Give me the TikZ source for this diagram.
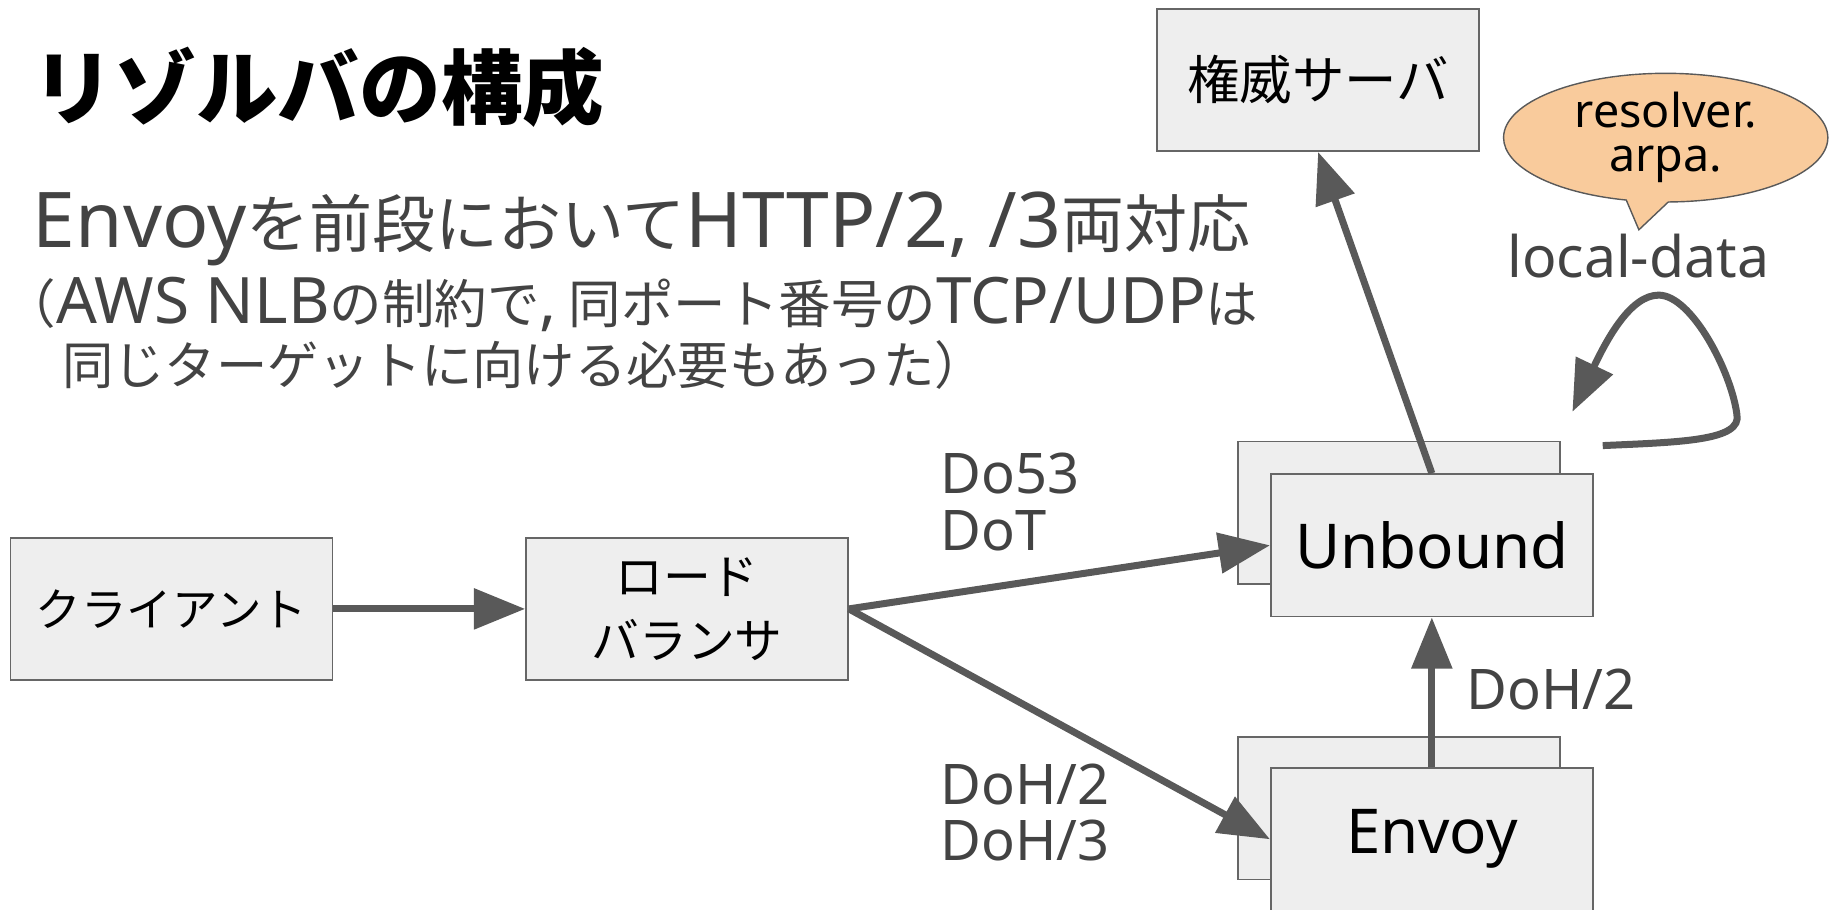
\documentclass[tikz,border=0pt]{standalone}
\usepackage{fontspec}
\setmainfont{Noto Sans CJK JP}
\newfontfamily\lat[Scale=1.22]{Noto Sans}
\newfontfamily\latn{Noto Sans}
\usetikzlibrary{arrows.meta,shapes.callouts,shapes.geometric}
\definecolor{boxfill}{HTML}{EEEEEE}
\definecolor{boxline}{HTML}{666666}
\definecolor{arrowc}{HTML}{595959}
\definecolor{textgray}{HTML}{434343}
\definecolor{callfill}{HTML}{F9CB9C}
\begin{document}
\begin{tikzpicture}[x=1pt,y=-1pt,
  box/.style={draw=boxline, fill=boxfill, line width=1.5pt, minimum width=276pt, minimum height=122pt, inner sep=0pt, align=center, font=\fontsize{40}{55}\selectfont},
  latbox/.style={box, font=\latn\fontsize{53}{60}\selectfont},
  arr/.style={draw=arrowc, line width=6pt, -{Triangle[length=44pt,width=34pt]}},
  lbl/.style={text=textgray, anchor=base west, inner sep=0pt, font=\latn\fontsize{48}{50}\selectfont, align=left}
]
\useasboundingbox (0,0) rectangle (1568,780);
% title
\node[anchor=base west, inner sep=0pt, font=\fontsize{70}{80}\selectfont\bfseries] (title) at (28,102) {リゾルバの構成};
\node[lbl, font=\fontsize{54}{60}\selectfont] (sub1) at (28,212) {{\lat Envoy}を前段において{\lat HTTP/2, /3}両対応};
\node[lbl, font=\fontsize{45}{50}\selectfont] (sub2) at (3,277) {（{\lat AWS NLB}の制約で{\lat ,} 同ポート番号の{\lat TCP/UDP}は};
\node[lbl, font=\fontsize{44}{50}\selectfont] (sub3) at (53,330) {同じターゲットに向ける必要もあった）};
% boxes
\node[box, font=\fontsize{39}{55}\selectfont] (client) at (147,522) {クライアント};
\node[box, font=\fontsize{41}{55}\selectfont] (lb) at (589,522) {ロード\\バランサ};
\node[box, font=\fontsize{45}{55}\selectfont] (auth) at (1130,68.5) {権威サーバ};
\node[box] (ubback) at (1199.5,439.5) {};
\node[latbox] (ub) at (1227.5,467.5) {Unbound};
\node[box] (envback) at (1199.5,693) {};
\node[latbox] (env) at (1227.5,719.5) {Envoy};
% callout
\node[ellipse callout, draw=arrowc, fill=callfill, line width=1.2pt, minimum width=278pt, minimum height=96pt, inner sep=0pt,
  callout absolute pointer={(1405,197)}, align=center, font=\latn\fontsize{40}{38}\selectfont] (rr) at (1428,118) {resolver.\\arpa.};
\node[lbl, font=\latn\fontsize{49}{50}\selectfont] (ld) at (1292,238) {local-data};
% arrows
\draw[arr] (client) -- (lb);
\draw[arr] (lb.east) -- (ub.west);
\draw[arr] (lb.east) -- (env.west);
\draw[arr] (env) -- (ub);
\draw[arr] (ub.north) -- (auth.south);
\coordinate (l0) at (1374,382);
\coordinate (l1) at (1489,355);
\coordinate (l2) at (1422,253);
\coordinate (l3) at (1348,353);
\draw[arr] (l0) .. controls (1440,379) and (1494,378) .. (l1) .. controls (1484,318) and (1450,253) .. (l2) .. controls (1398,253) and (1378,290) .. (l3);
% labels
\node[lbl] (do53) at (806,423) {Do53};
\node[lbl] (dot) at (806,472) {DoT};
\node[lbl] (doh2a) at (806,690) {DoH/2};
\node[lbl] (doh3) at (806,738) {DoH/3};
\node[lbl] (doh2b) at (1257,608) {DoH/2};
\end{tikzpicture}
\end{document}
